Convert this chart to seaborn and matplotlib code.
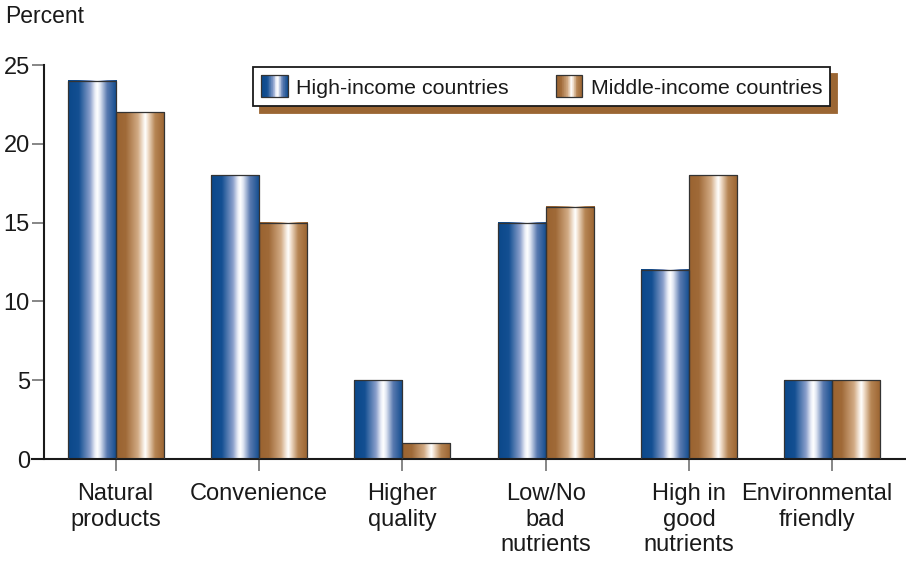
import numpy as np
import pandas as pd
import matplotlib
matplotlib.use("Agg")
import matplotlib.pyplot as plt
import seaborn as sns
from matplotlib.colors import LinearSegmentedColormap
from matplotlib.patches import Rectangle
from matplotlib.legend_handler import HandlerBase
from matplotlib.transforms import ScaledTranslation

categories = ["Natural\nproducts", "Convenience", "Higher\nquality",
              "Low/No\nbad\nnutrients", "High in\ngood\nnutrients", "Environmental\nfriendly"]
high_income = [24, 18, 5, 15, 12, 5]
middle_income = [22, 15, 1, 16, 18, 5]
series_names = ["High-income countries", "Middle-income countries"]
y_ticks = [0, 5, 10, 15, 20, 25]

df = pd.DataFrame({
    "category": categories * 2,
    "value": high_income + middle_income,
    "group": [series_names[0]] * len(categories) + [series_names[1]] * len(categories),
})

blue_cmap = LinearSegmentedColormap.from_list("b", [
    (0.0, "#0b488a"), (0.22, "#134f92"), (0.45, "#8a9fcb"), (0.55, "#e8ecf6"),
    (0.6, "#ffffff"), (0.66, "#dfe5f2"), (0.8, "#5a7ab0"), (1.0, "#0e4a8c")])
brown_cmap = LinearSegmentedColormap.from_list("r", [
    (0.0, "#9a6330"), (0.2, "#a06a38"), (0.45, "#d2ab85"), (0.55, "#f3e6d8"),
    (0.6, "#ffffff"), (0.66, "#efdcc8"), (0.8, "#b68554"), (1.0, "#99622f")])
cmaps = {series_names[0]: blue_cmap, series_names[1]: brown_cmap}

FONT = "Liberation Sans"
sns.set_style("white")
plt.rcParams["font.family"] = [FONT, "DejaVu Sans"]

fig = plt.figure(figsize=(9.06, 5.61), dpi=100)
ax = fig.add_axes([44 / 906, 102 / 561, 862 / 906, 394 / 561])

sns.barplot(data=df, x="category", y="value", hue="group", order=categories,
            hue_order=series_names, palette=["#0d4a8c", "#9a6330"], width=0.67,
            ax=ax, legend=False, saturation=1)

xlim = (-0.5, 5.515)
ylim = (0, 25)
grad = np.linspace(0, 1, 256).reshape(1, -1)
n = len(categories)
for i, p in enumerate(ax.patches):
    name = series_names[0] if i < n else series_names[1]
    x0, y0 = p.get_x(), p.get_y()
    w, h = p.get_width(), p.get_height()
    if h <= 0:
        continue
    ax.imshow(grad, cmap=cmaps[name], aspect="auto", extent=(x0, x0 + w, y0, y0 + h),
              zorder=2, interpolation="bilinear")
    p.set_facecolor("none")
    p.set_edgecolor("#333333")
    p.set_linewidth(0.9)
    p.set_zorder(3)

ax.set_xlim(*xlim)
ax.set_ylim(*ylim)
ax.set_yticks(y_ticks)
ax.set_yticklabels([str(t) for t in y_ticks], fontsize=17, fontfamily=FONT)
ax.set_xticks(range(n))
ax.set_xticklabels(categories, fontsize=17, fontfamily=FONT, linespacing=1.2)
ax.set_xlabel("")
ax.set_ylabel("")
ax.tick_params(axis="both", direction="out", length=8.6, width=1.1, color="#666666",
               labelcolor="#1a1a1a", bottom=True, left=True)
ax.tick_params(axis="y", pad=1.5)
ax.tick_params(axis="x", pad=9)

# last label is nudged left in the reference to stay inside the figure
last = ax.get_xticklabels()[-1]
last.set_transform(last.get_transform() + ScaledTranslation(-15 / 100, 0, fig.dpi_scale_trans))

for s in ["top", "right"]:
    ax.spines[s].set_visible(False)
for s in ["left", "bottom"]:
    ax.spines[s].set_color("#1a1a1a")
    ax.spines[s].set_linewidth(1.5)
ax.spines["bottom"].set_bounds(-0.5 - 12 / 143.3, xlim[1])

fig.text(5 / 906, 1 - 23 / 561, "Percent", fontsize=16.5, fontfamily=FONT,
         va="baseline", ha="left", color="#1a1a1a")


class GradHandler(HandlerBase):
    def __init__(self, cmap):
        super().__init__()
        self.cmap = cmap

    def create_artists(self, legend, orig_handle, xdescent, ydescent, width, height,
                       fontsize, trans):
        arts = []
        k = 40
        for j in range(k):
            c = self.cmap((j + 0.5) / k)
            r = Rectangle((-xdescent + width * j / k, -ydescent), width / k * 1.05, height,
                          facecolor=c, edgecolor="none", transform=trans)
            arts.append(r)
        arts.append(Rectangle((-xdescent, -ydescent), width, height, facecolor="none",
                              edgecolor="#333333", linewidth=0.9, transform=trans))
        return arts


h1 = Rectangle((0, 0), 1, 1)
h2 = Rectangle((0, 0), 1, 1)
leg = ax.legend([h1, h2], series_names, loc="upper left",
                bbox_to_anchor=(0.2425, 0.994), borderaxespad=0, ncol=2,
                handler_map={h1: GradHandler(blue_cmap), h2: GradHandler(brown_cmap)},
                prop={"family": FONT, "size": 15.4}, handlelength=1.25, handleheight=1.2,
                handletextpad=0.38, columnspacing=2.2, borderpad=0.38, fancybox=False,
                frameon=True,
                shadow={"ox": 5, "oy": -5, "color": "#9b6633", "alpha": 1})
leg.get_frame().set_edgecolor("#1a1a1a")
leg.get_frame().set_linewidth(1.3)
leg.get_frame().set_facecolor("white")
leg.get_frame().set_alpha(1)
for t in leg.get_texts():
    t.set_color("#1a1a1a")

fig.savefig("out.png", dpi=100)
